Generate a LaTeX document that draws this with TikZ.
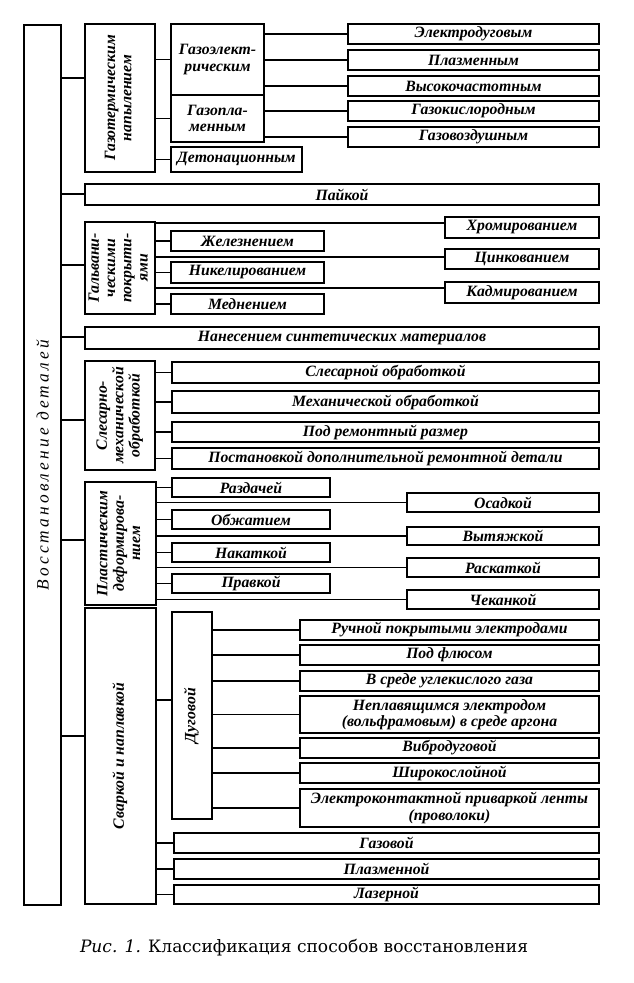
\documentclass[tikz,border=0pt]{standalone}
\usepackage{fontspec}
\setmainfont{Liberation Serif}
\newfontfamily\capfont{DejaVu Serif}
\usetikzlibrary{positioning}

\tikzset{
  box/.style={draw, line width=1.1pt, inner sep=0.5pt, align=center,
    font=\fontsize{11.8}{12.2}\selectfont\bfseries\itshape},
  link/.style={line width=0.9pt},
}
\newcommand\vtxt[1]{\rotatebox{90}{\begin{tabular}{@{}c@{}}#1\end{tabular}}}

\begin{document}
\begin{tikzpicture}[x=0.75pt, y=-0.75pt]
    \fill[white] (0,0) rectangle (633,983);
    \useasboundingbox (0,0) rectangle (633,983);

    % Root
    \node[box, font=\fontsize{13}{14}\selectfont\itshape, minimum width=37*0.75pt, minimum height=880*0.75pt]
      (root) at (42.5,465) {\rotatebox{90}{\addfontfeatures{LetterSpace=18}Восстановление деталей}};

    % Boxes: name / x1 / y1 / x2 / y2 / text
    \foreach \n/\xa/\ya/\xb/\yb/\t in {
        gterm/85/24/155/172/{\vtxt{Газотермическим\\напылением}},
        gel/171/24/264/95/{Газоэлект-\\рическим},
        gpl/171/95/264/142/{Газопла-\\менным},
        det/171/147/302/172/{Детонационным},
        edug/348/24/599/44/{Электродуговым},
        plaz/348/50/599/70/{Плазменным},
        vch/348/76/599/96/{Высокочастотным},
        gkis/348/101/599/121/{Газокислородным},
        gvoz/348/127/599/147/{Газовоздушным},
        pai/85/184/599/205/{Пайкой},
        galv/85/222/155/314/{\vtxt{Гальвани-\\ческими\\покрыти-\\ями}},
        zhel/171/231/324/251/{Железнением},
        nik/171/262/324/283/{Никелированием},
        med/171/294/324/314/{Меднением},
        chrom/445/217/599/238/{Хромированием},
        cink/445/249/599/269/{Цинкованием},
        kadm/445/282/599/303/{Кадмированием},
        sint/85/327/599/349/{Нанесением синтетических материалов},
        slmex/85/361/155/470/{\vtxt{Слесарно-\\механической\\обработкой}},
        slob/172/362/599/383/{Слесарной обработкой},
        mexob/172/391/599/413/{Механической обработкой},
        remr/172/422/599/442/{Под ремонтный размер},
        dopd/172/448/599/469/{Постановкой дополнительной ремонтной детали},
        plast/85/482/156/605/{\vtxt{Пластическим\\деформирова-\\нием}},
        razd/172/478/330/497/{Раздачей},
        obzh/172/510/330/529/{Обжатием},
        nakat/172/543/330/562/{Накаткой},
        pravk/172/574/330/593/{Правкой},
        osad/407/493/599/512/{Осадкой},
        vyt/407/527/599/545/{Вытяжкой},
        rask/407/558/599/577/{Раскаткой},
        chek/407/590/599/609/{Чеканкой},
        svar/85/608/156/904/{\vtxt{Сваркой и наплавкой}},
        dug/172/612/212/819/{\vtxt{Дуговой}},
        ruch/300/620/599/640/{Ручной покрытыми электродами},
        flus/300/645/599/665/{Под флюсом},
        ugl/300/671/599/691/{В среде углекислого газа},
        nepl/300/696/599/733/{Неплавящимся электродом\\(вольфрамовым) в среде аргона},
        vibr/300/738/599/758/{Вибродуговой},
        shir/300/763/599/783/{Широкослойной},
        ekon/300/789/599/827/{Электроконтактной приваркой ленты\\(проволоки)},
        gaz/174/833/599/853/{Газовой},
        plzn/174/859/599/879/{Плазменной},
        lazr/174/885/599/904/{Лазерной}}
      \node[box, minimum width={(\xb-\xa)*0.75pt}, minimum height={(\yb-\ya)*0.75pt}]
        (\n) at ({(\xa+\xb)/2},{(\ya+\yb)/2}) {\t};

    % Links from the root
    \foreach \g/\y in {gterm/78, pai/194, galv/265, sint/337, slmex/420, plast/540, svar/736}
      \draw[link] (root.east |- 0,\y) -- (\g.west |- 0,\y);

    % Links to children (at child middle)
    \foreach \p/\c in {gterm/gel, gterm/gpl, gterm/det, gel/edug, gel/plaz, gel/vch,
                       gpl/gkis, gpl/gvoz, galv/zhel, galv/nik, galv/med,
                       slmex/slob, slmex/mexob, slmex/remr, slmex/dopd,
                       plast/razd, plast/obzh, plast/nakat, plast/pravk,
                       plast/osad, plast/vyt, plast/rask, plast/chek,
                       dug/ruch, dug/flus, dug/ugl, dug/nepl, dug/vibr, dug/shir, dug/ekon,
                       svar/gaz, svar/plzn, svar/lazr}
      \draw[link] (\p.east |- \c.west) -- (\c.west);

    % Long links past the inner boxes
    \foreach \c/\y in {chrom/223, cink/257, kadm/288}
      \draw[link] (galv.east |- 0,\y) -- (\c.west |- 0,\y);
    \draw[link] (svar.east |- 0,700) -- (dug.west |- 0,700);

    % Caption
    \node[font=\capfont\fontsize{12.8}{14}\selectfont] (cap) at (304,948)
      {\textit{Рис. 1.} Классификация способов восстановления};
\end{tikzpicture}
\end{document}
